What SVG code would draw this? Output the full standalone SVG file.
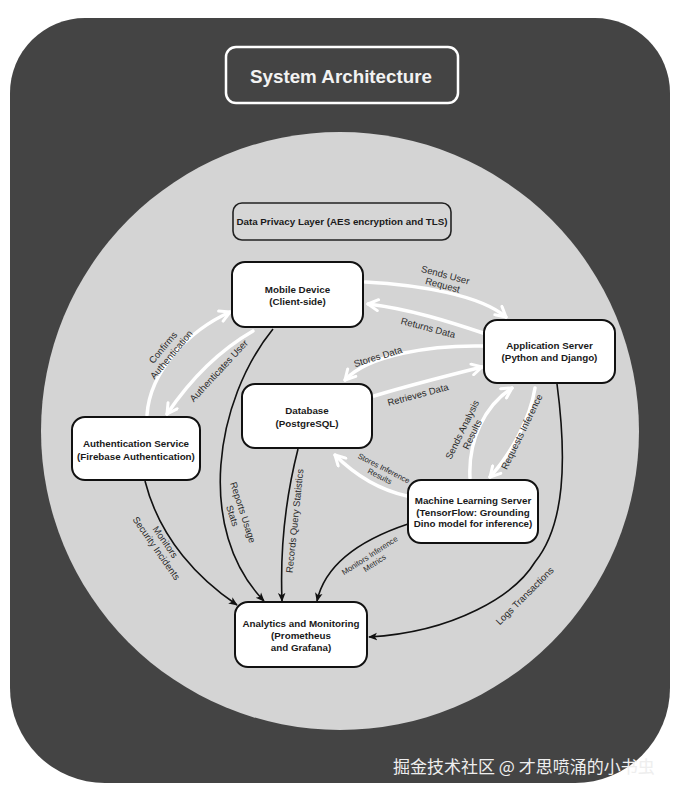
<svg xmlns="http://www.w3.org/2000/svg" width="680" height="794" viewBox="0 0 680 794">
<style>
.node rect{fill:#fff;stroke:#111;stroke-width:2}
.nt{font-family:"Liberation Sans",Arial,sans-serif;font-size:9.8px;font-weight:bold;fill:#1a1a1a;text-anchor:middle}
.lbl{font-family:"Liberation Sans",Arial,sans-serif;font-size:9.5px;fill:#2a2a2a;text-anchor:middle}
.sm{font-size:7.8px}
.wl{fill:none;stroke:#fff;stroke-width:3.5;stroke-linecap:round}
.bl{fill:none;stroke:#111;stroke-width:1.6}
</style>
<defs>
<marker id="aw" viewBox="0 0 14 14" refX="12" refY="7" markerWidth="14" markerHeight="14" markerUnits="userSpaceOnUse" orient="auto">
<path d="M2,1.5 L12,7 L2,12.5" fill="none" stroke="#fff" stroke-width="3" stroke-linecap="round" stroke-linejoin="round"/>
</marker>
<marker id="ab" viewBox="0 0 10 10" refX="9" refY="5" markerWidth="9" markerHeight="9" markerUnits="userSpaceOnUse" orient="auto">
<path d="M0,0.8 L10,5 L0,9.2 L2.5,5 Z" fill="#111"/>
</marker>
</defs>
<rect width="680" height="794" fill="#fff"/>
<path id="card" d="M85,18 H595 A75,75 0 0 1 670,93 V688 A95,95 0 0 1 575,783 H105 A95,95 0 0 1 10,688 V93 A75,75 0 0 1 85,18 Z" fill="#444"/>
<circle id="circle" cx="340" cy="431" r="299" fill="#d4d4d4"/>
<g id="title">
<rect x="226" y="47" width="232" height="56" rx="10" fill="none" stroke="#fff" stroke-width="2.5"/>
<text x="341" y="83" font-family="Liberation Sans,Arial,sans-serif" font-size="18.8" font-weight="bold" fill="#f2f2f2" text-anchor="middle">System Architecture</text>
</g>
<g id="privacy">
<rect x="233" y="203" width="218" height="37" rx="9" fill="#d6d6d6" stroke="#222" stroke-width="1.6"/>
<text class="nt" x="342" y="225">Data Privacy Layer (AES encryption and TLS)</text>
</g>
<g id="connectors">
<path class="wl" d="M365,282 C420,285 480,295 506,317" marker-end="url(#aw)"/>
<path class="wl" d="M483,333 C450,322 410,309 368,304" marker-end="url(#aw)"/>
<path class="wl" d="M483,346 C430,345 368,355 345,380" marker-end="url(#aw)"/>
<path class="wl" d="M374,396 C410,385 450,375 482,367" marker-end="url(#aw)"/>
<path class="wl" d="M147,415 C150,370 190,330 230,312" marker-end="url(#aw)"/>
<path class="wl" d="M253,331 C220,350 190,380 167,414" marker-end="url(#aw)"/>
<path class="wl" d="M470,478 C468,440 485,405 512,388" marker-end="url(#aw)"/>
<path class="wl" d="M535,388 C530,420 510,455 490,477" marker-end="url(#aw)"/>
<path class="wl" d="M407,496 C380,490 355,475 335,455" marker-end="url(#aw)"/>
<path class="bl" d="M273,329 C215,400 195,530 264,601" marker-end="url(#ab)"/>
<path class="bl" d="M298,449 C285,500 280,550 282,601" marker-end="url(#ab)"/>
<path class="bl" d="M408,524 C360,540 325,565 317,601" marker-end="url(#ab)"/>
<path class="bl" d="M145,481 C160,540 200,580 237,605" marker-end="url(#ab)"/>
<path class="bl" d="M557,384 C567,460 565,525 535,562 C515,595 455,632 369,637" marker-end="url(#ab)"/>
<text class="lbl" transform="translate(444,280) rotate(15)"><tspan x="0" y="-2">Sends User</tspan><tspan x="0" y="8.5">Request</tspan></text>
<text class="lbl" transform="translate(428,328) rotate(15)" y="3">Returns Data</text>
<text class="lbl" transform="translate(378,357) rotate(-17)" y="3">Stores Data</text>
<text class="lbl" transform="translate(418,395) rotate(-15)" y="3">Retrieves Data</text>
<text class="lbl" transform="translate(167,351) rotate(-50)"><tspan x="0" y="-2">Confirms</tspan><tspan x="0" y="9">Authentication</tspan></text>
<text class="lbl" transform="translate(219,371) rotate(-47)" y="3">Authenticates User</text>
<text class="lbl" transform="translate(467,432) rotate(-64)"><tspan x="0" y="-2">Sends Analysis</tspan><tspan x="0" y="9">Results</tspan></text>
<text class="lbl" transform="translate(522,432) rotate(-64)" y="3">Requests Inference</text>
<text class="lbl sm" transform="translate(382,472) rotate(27)"><tspan x="0" y="-1.5">Stores Inference</tspan><tspan x="0" y="7.5">Results</tspan></text>
<text class="lbl" transform="translate(238,514) rotate(72)"><tspan x="0" y="-2">Reports Usage</tspan><tspan x="0" y="9">Stats</tspan></text>
<text class="lbl" transform="translate(295,521) rotate(-84)" y="3">Records Query Statistics</text>
<text class="lbl sm" transform="translate(372,559) rotate(-33)"><tspan x="0" y="-1.5">Monitors Inference</tspan><tspan x="0" y="7.5">Metrics</tspan></text>
<text class="lbl" transform="translate(161,545) rotate(55)"><tspan x="0" y="-2">Monitors</tspan><tspan x="0" y="9">Security Incidents</tspan></text>
<text class="lbl" transform="translate(525,596) rotate(-45)" y="3">Logs Transactions</text>
</g>
<g id="mobile" class="node">
<rect x="232" y="262" width="131" height="65" rx="13"/>
<text class="nt" x="297.5" y="293">Mobile Device</text>
<text class="nt" x="297.5" y="305">(Client-side)</text>
</g>
<g id="appserver" class="node">
<rect x="484" y="320" width="131" height="63" rx="13"/>
<text class="nt" x="549.5" y="348.5">Application Server</text>
<text class="nt" x="549.5" y="360.5">(Python and Django)</text>
</g>
<g id="database" class="node">
<rect x="242" y="384" width="130" height="64" rx="13"/>
<text class="nt" x="307" y="414">Database</text>
<text class="nt" x="307" y="427">(PostgreSQL)</text>
</g>
<g id="auth" class="node">
<rect x="72" y="417" width="128" height="63" rx="13"/>
<text class="nt" x="136" y="447">Authentication Service</text>
<text class="nt" x="136" y="459.5">(Firebase Authentication)</text>
</g>
<g id="mlserver" class="node">
<rect x="408" y="480" width="130" height="63" rx="13"/>
<text class="nt" x="473" y="504">Machine Learning Server</text>
<text class="nt" x="473" y="515.5">(TensorFlow: Grounding</text>
<text class="nt" x="473" y="527">Dino model for inference)</text>
</g>
<g id="analytics" class="node">
<rect x="235" y="602" width="132" height="65" rx="13"/>
<text class="nt" x="301" y="627">Analytics and Monitoring</text>
<text class="nt" x="301" y="638.5">(Prometheus</text>
<text class="nt" x="301" y="650.5">and Grafana)</text>
</g>
<text id="watermark" x="393" y="773" font-family="Noto Sans CJK SC,sans-serif" font-size="17" fill="#eeeeee">掘金技术社区 @ 才思喷涌的小书虫</text>
</svg>
